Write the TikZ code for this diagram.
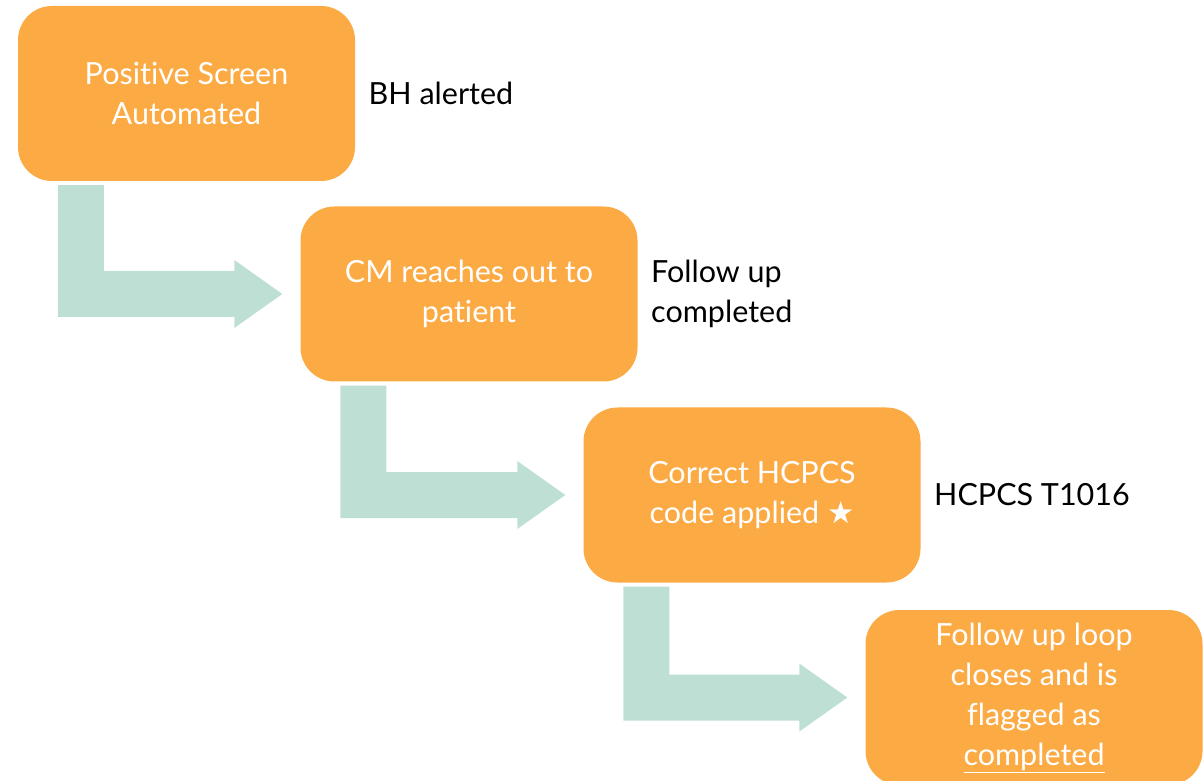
\documentclass[tikz,border=0pt]{standalone}
\usepackage{fontspec}
\setmainfont{Lato}[Ligatures=NoCommon]
\newfontfamily\symfont{DejaVu Sans}
\usetikzlibrary{calc}
\definecolor{stepfill}{RGB}{252,170,68}
\definecolor{flowgreen}{RGB}{190,224,212}
\tikzset{
  stepbox/.style={fill=stepfill, rounded corners=34pt, minimum width=337pt,
    minimum height=175pt, inner sep=0pt, text=white, align=center,
    font=\fontsize{30.5}{40}\selectfont},
  sidenote/.style={anchor=west, align=left, text=black,
    font=\fontsize{30.5}{40}\selectfont},
  flowarrow/.style={fill=flowgreen}
}
% bent arrow leaving the bottom of box #1 and pointing at the left side of box #2
\newcommand\bentarrow[2]{%
  \fill[flowarrow] let \p1=(#1.south west), \p2=(#2.west) in
    (\x1+40pt,\y1-4pt) -- (\x1+86pt,\y1-4pt) -- (\x1+86pt,\y2+23pt)
    -- (\x2-66pt,\y2+23pt) -- (\x2-66pt,\y2+34pt) -- (\x2-18pt,\y2)
    -- (\x2-66pt,\y2-34pt) -- (\x2-66pt,\y2-23pt) -- (\x1+40pt,\y2-23pt) -- cycle;}
\begin{document}
\begin{tikzpicture}[x=1pt,y=1pt]
  \useasboundingbox (0,0) rectangle (1204,780);

  \node[stepbox] (s1) at (186.5,686.5) {Positive Screen\\Automated};
  \node[stepbox] (s2) at (469,486) {CM reaches out to\\patient};
  \node[stepbox] (s3) at (752,285) {Correct HCPCS\\code applied {\symfont ★}};
  \node[stepbox] (s4) at (1034,82.5) {Follow up loop\\closes and is\\flagged as\\\underline{completed}};

  \node[sidenote] (n1) at ($(s1.east)+(10pt,0)$) {BH alerted};
  \node[sidenote] (n2) at ($(s2.east)+(10pt,0)$) {Follow up\\completed};
  \node[sidenote] (n3) at ($(s3.east)+(10pt,0)$) {HCPCS T1016};

  \bentarrow{s1}{s2}
  \bentarrow{s2}{s3}
  \bentarrow{s3}{s4}
\end{tikzpicture}
\end{document}
